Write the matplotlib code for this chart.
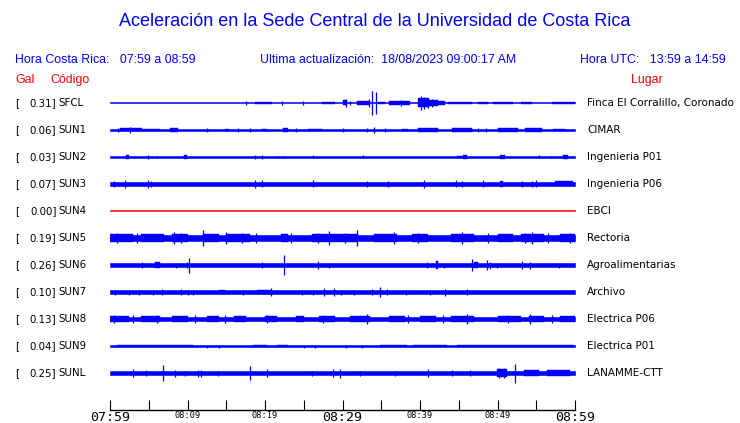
import matplotlib
matplotlib.use('Agg')
import matplotlib.pyplot as plt
import matplotlib.transforms as mtransforms

# Stations (top to bottom)
CODES = ['SFCL', 'SUN1', 'SUN2', 'SUN3', 'SUN4', 'SUN5', 'SUN6', 'SUN7', 'SUN8', 'SUN9', 'SUNL']
GAL = [0.31, 0.06, 0.03, 0.07, 0.00, 0.19, 0.26, 0.10, 0.13, 0.04, 0.25]
PLACES = ['Finca El Corralillo, Coronado', 'CIMAR', 'Ingenieria P01', 'Ingenieria P06', 'EBCI',
          'Rectoria', 'Agroalimentarias', 'Archivo', 'Electrica P06', 'Electrica P01', 'LANAMME-CTT']

# Time axis: minutes after 07:59
TICK_MIN = list(range(0, 61, 5))
TICK_LABELS = ['07:59', '', '08:09', '', '08:19', '', '08:29', '', '08:39', '', '08:49', '', '08:59']
BIG_LABELS = ['07:59', '08:29', '08:59']

# Background noise half-width of each trace (pixels)
NOISE_PX = [0.5, 0.8, 0.6, 1.9, 0.5, 2.8, 1.7, 1.6, 2.4, 0.8, 2.0]

# Bursts: (start minute, end minute, half-amplitude px)
BURSTS_SFCL = [(18.7, 20.9, 1.2), (27.4, 29.0, 1.3), (30.0, 30.6, 2.5), (31.9, 33.6, 1.8),
               (34.6, 35.5, 1.3), (36.0, 38.7, 1.6), (39.7, 41.2, 4.5), (41.2, 42.3, 2.8),
               (42.3, 43.2, 1.8), (43.6, 46.7, 1.3), (47.5, 48.8, 1.3), (49.4, 52.0, 1.3),
               (53.0, 54.5, 1.3), (57.0, 60.0, 1.3)]
SPIKES_SFCL = [(17.6, 2), (22.2, 2), (24.9, 2), (30.5, 4), (31.0, 2), (33.4, 4), (33.8, 12),
               (34.3, 11), (37.6, 3), (40.1, 7), (40.5, 6), (41.0, 5), (41.5, 4)]

BURSTS_SUN1 = [(1.3, 4.1, 1.5), (4.3, 6.5, 1.3), (7.7, 8.8, 1.8), (14.8, 15.3, 1.3), (19.6, 20.3, 1.3),
               (22.3, 23.0, 1.8), (25.5, 27.3, 1.3), (37.7, 38.5, 1.3), (39.7, 42.3, 1.6),
               (44.1, 46.7, 1.6), (50.0, 52.6, 1.6), (53.5, 55.7, 1.6), (57.2, 58.7, 1.3)]
SPIKES_SUN1 = [(1.0, 2), (2.6, 3), (12.5, 2), (16.5, 2), (18.0, 2), (24.0, 2), (30.0, 2),
               (33.2, 2), (34.0, 3), (35.5, 2), (47.5, 2), (48.5, 2)]

BURSTS_SUN2 = [(2.0, 2.4, 2.0), (9.5, 9.9, 1.8), (44.8, 45.8, 1.3), (45.6, 46.0, 2.3), (50.3, 51.0, 2.2),
               (58.5, 59.1, 1.8)]
SPIKES_SUN2 = [(4.9, 2), (6.1, 1), (18.7, 2), (19.6, 2), (21.7, 1), (22.4, 1), (26.2, 1.5),
               (32.7, 1.5), (55.4, 1.5), (56.9, 1)]

BURSTS_SUN3 = [(50.3, 50.7, 3.0), (57.4, 59.7, 2.5)]
SPIKES_SUN3 = [(0.5, 3), (1.9, 4), (4.9, 4), (5.3, 3), (18.7, 4), (19.6, 3.5), (26.2, 3.5),
               (33.1, 3), (35.9, 3), (40.5, 4), (44.7, 3.5), (45.4, 3), (48.1, 3.5),
               (53.1, 3), (54.4, 3), (55.0, 3.5)]

BURSTS_SUN4 = []
SPIKES_SUN4 = []

BURSTS_SUN5 = [(0.0, 3.0, 4.0), (4.0, 7.0, 4.0), (8.0, 10.0, 4.3), (12.0, 14.0, 4.0), (15.0, 18.0, 4.0),
               (22.0, 23.0, 4.0), (26.0, 32.0, 4.3), (34.0, 37.0, 4.0), (39.0, 41.0, 4.0),
               (44.0, 47.0, 4.3), (50.0, 52.0, 4.0), (53.0, 56.0, 4.3), (58.0, 60.0, 4.0)]
SPIKES_SUN5 = [(0.9, 5), (3.5, 5), (8.2, 6), (9.2, 5), (12.0, 8), (15.0, 6), (17.0, 5), (18.9, 5),
               (23.4, 5), (26.8, 5), (28.3, 7), (30.3, 5), (31.9, 8), (36.6, 6), (39.7, 5),
               (45.4, 6), (48.8, 4.5), (53.5, 5), (54.4, 6), (56.5, 5), (59.3, 5)]

BURSTS_SUN6 = [(5.8, 6.5, 2.8), (42.0, 42.3, 3.5), (47.0, 47.5, 3.0)]
SPIKES_SUN6 = [(4.1, 3), (8.5, 2.5), (9.9, 3), (10.15, 7.5), (19.6, 3), (22.4, 10), (26.8, 4),
               (28.3, 2.5), (40.9, 3), (43.1, 2.5), (46.7, 6), (48.6, 5), (49.0, 3.5),
               (49.9, 2.5), (53.1, 4), (54.2, 3.5), (57.9, 2.5)]

BURSTS_SUN7 = [(14.0, 14.8, 2.3), (19.0, 20.9, 2.4)]
SPIKES_SUN7 = [(0.6, 2.5), (2.4, 2.5), (3.8, 2.5), (5.6, 2.5), (6.7, 3), (9.2, 3), (10.0, 2.5),
               (10.7, 2.5), (17.1, 2.5), (20.8, 4), (24.8, 2.5), (26.2, 2.5), (27.6, 4),
               (28.9, 4), (29.8, 2.5), (31.5, 2.5), (33.8, 3), (34.8, 5), (35.7, 3),
               (38.2, 2.5), (41.3, 2.5), (43.2, 3.5), (46.0, 3)]

BURSTS_SUN8 = [(0.0, 2.5, 3.2), (4.0, 6.5, 3.2), (8.0, 10.0, 3.2), (12.5, 14.0, 3.0), (16.0, 17.5, 3.0),
               (20.0, 21.5, 3.0), (24.0, 25.0, 3.0), (27.0, 29.0, 3.0), (31.0, 33.5, 3.2),
               (36.0, 38.0, 3.0), (40.0, 42.0, 3.0), (44.0, 47.0, 3.2), (50.0, 53.0, 3.2),
               (54.0, 56.0, 3.2), (58.0, 60.0, 3.0)]
SPIKES_SUN8 = [(0.5, 4), (3.0, 4), (6.0, 4), (11.0, 4), (14.8, 4), (20.2, 4), (27.5, 4), (33.2, 5),
               (38.5, 4), (43.0, 4), (46.0, 5), (51.4, 4), (54.2, 5), (57.0, 4)]

BURSTS_SUN9 = [(0.9, 10.7, 1.2), (18.5, 20.2, 1.2), (21.5, 23.0, 1.2), (34.8, 38.3, 1.2),
               (39.1, 43.5, 1.2), (44.8, 59.8, 1.4)]
SPIKES_SUN9 = [(12.5, 1.5), (14.0, 1.5), (25.0, 1.5), (26.5, 1.5), (30.5, 1.5), (32.5, 1.5)]

BURSTS_SUNL = [(49.9, 51.2, 3.8), (53.4, 55.3, 2.8), (56.4, 59.4, 2.8)]
SPIKES_SUNL = [(3.0, 4), (4.6, 3), (6.9, 8), (8.4, 3.5), (9.7, 2.5), (11.3, 3.5), (11.8, 3.5),
               (13.9, 2.5), (18.1, 7), (20.3, 4), (26.0, 2.5), (28.8, 4), (29.7, 4.5),
               (32.2, 2.5), (36.8, 2.5), (41.0, 4), (44.1, 3), (46.4, 3), (50.2, 5),
               (50.8, 5), (52.2, 9.5)]

BURSTS = [BURSTS_SFCL, BURSTS_SUN1, BURSTS_SUN2, BURSTS_SUN3, BURSTS_SUN4, BURSTS_SUN5,
          BURSTS_SUN6, BURSTS_SUN7, BURSTS_SUN8, BURSTS_SUN9, BURSTS_SUNL]
SPIKES = [SPIKES_SFCL, SPIKES_SUN1, SPIKES_SUN2, SPIKES_SUN3, SPIKES_SUN4, SPIKES_SUN5,
          SPIKES_SUN6, SPIKES_SUN7, SPIKES_SUN8, SPIKES_SUN9, SPIKES_SUNL]

W, H = 740, 423
TRACE_SPACING = 27.0  # pixels between trace baselines
BLUE = '#0000ff'
RED = '#ff0000'

fig = plt.figure(figsize=(W / 100, H / 100), dpi=100)
fig.patch.set_facecolor('white')

# axes spanning the trace area, one unit per trace
ax = fig.add_axes([110 / W, 1 - 410 / H, 465 / W, (410 - 89.5) / H])
ax.set_xlim(0, 60)
ax.set_ylim(-(410 - 103) / TRACE_SPACING, (103 - 89.5) / TRACE_SPACING)
for side in ['top', 'left', 'right']:
    ax.spines[side].set_visible(False)
ax.spines['bottom'].set_linewidth(1.0)
ax.set_yticks([])
ax.set_xticks(TICK_MIN)
ax.set_xticklabels(TICK_LABELS, family='DejaVu Sans Mono')
ax.tick_params(axis='x', direction='in', length=7.2, width=0.8, pad=1)
for lbl in ax.get_xticklabels():
    lbl.set_fontsize(9.5 if lbl.get_text() in BIG_LABELS else 6.2)

px = 1.0 / TRACE_SPACING
for i, code in enumerate(CODES):
    y0 = -i
    color = RED if GAL[i] == 0 else BLUE
    base = NOISE_PX[i] * px
    ax.fill_between([0, 60], y0 - base, y0 + base, color=color, lw=0.4)
    for t0, t1, a in BURSTS[i]:
        ax.fill_between([t0, t1], y0 - a * px, y0 + a * px, color=color, lw=0.3)
    for t, a in SPIKES[i]:
        ax.vlines(t, y0 - a * px, y0 + a * px, color=color, lw=0.9, clip_on=False)

# station labels beside traces
lab = mtransforms.blended_transform_factory(fig.transFigure, ax.transData)
for i, code in enumerate(CODES):
    y0 = -i
    ax.text(15 / W, y0, '[', transform=lab, fontsize=7.4, va='center', ha='left')
    ax.text(56.5 / W, y0, f'{GAL[i]:.2f}]', transform=lab, fontsize=7.4, va='center', ha='right')
    ax.text(58.5 / W, y0, code, transform=lab, fontsize=7.4, va='center', ha='left')
    ax.text(587 / W, y0, PLACES[i], transform=lab, fontsize=7.5, va='center', ha='left')

# header
hdr = dict(family='Liberation Sans', color=BLUE, va='center')
fig.text(375 / W, 1 - 22 / H, 'Aceleración en la Sede Central de la Universidad de Costa Rica',
         fontsize=13.0, ha='center', **hdr)
fig.text(15 / W, 1 - 60 / H, 'Hora Costa Rica:   07:59 a 08:59', fontsize=8.9, ha='left', **hdr)
fig.text(260 / W, 1 - 60 / H, 'Ultima actualización:  18/08/2023 09:00:17 AM', fontsize=8.9, ha='left', **hdr)
fig.text(580 / W, 1 - 60 / H, 'Hora UTC:   13:59 a 14:59', fontsize=8.9, ha='left', **hdr)

red = dict(family='Liberation Sans', color=RED, va='center', fontsize=8.9)
fig.text(15 / W, 1 - 80 / H, 'Gal', ha='left', **red)
fig.text(50 / W, 1 - 80 / H, 'Código', ha='left', **red)
fig.text(631 / W, 1 - 80 / H, 'Lugar', ha='left', **red)

fig.savefig('out.png', dpi=100)
